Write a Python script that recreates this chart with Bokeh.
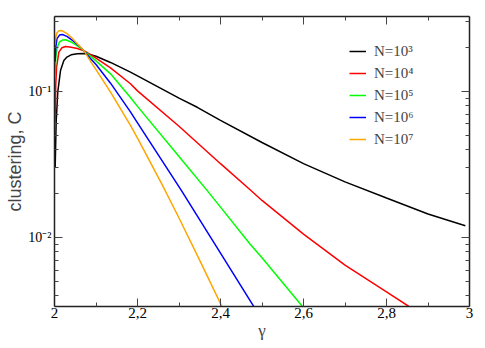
from bokeh.plotting import figure
from bokeh.models import (Range1d, LinearAxis, LogAxis, FixedTicker,
                          CustomJSTickFormatter, Legend, LegendItem)
from bokeh.embed import file_html
from bokeh.resources import INLINE

# ---- data ----
gamma_n3 = [2.0016, 2.004, 2.008, 2.0145, 2.0225, 2.03, 2.04, 2.055, 2.07, 2.085,
            2.1, 2.135, 2.183, 2.2, 2.3, 2.344, 2.4, 2.5, 2.6, 2.7, 2.8, 2.9, 2.99]
C_n3 = [0.030, 0.062, 0.100, 0.139, 0.163, 0.172, 0.178, 0.181, 0.182, 0.179,
        0.174, 0.158, 0.1355, 0.128, 0.090, 0.078, 0.0635, 0.0448, 0.0321, 0.0241,
        0.0187, 0.01455, 0.0121]

gamma_n4 = [2.0016, 2.003, 2.005, 2.0105, 2.018, 2.0265, 2.04, 2.055, 2.071, 2.085,
            2.1, 2.135, 2.183, 2.2, 2.3, 2.4, 2.472, 2.5, 2.6, 2.7, 2.8, 2.854, 2.88]
C_n4 = [0.060, 0.110, 0.147, 0.186, 0.199, 0.203, 0.201, 0.197, 0.190, 0.180,
        0.169, 0.145, 0.113, 0.101, 0.0579, 0.0321, 0.0212, 0.0180, 0.0106, 0.0065,
        0.00426, 0.00339, 0.0030]

gamma_n5 = [2.0016, 2.003, 2.0065, 2.012, 2.02, 2.0265, 2.04, 2.055, 2.071, 2.085,
            2.1, 2.135, 2.183, 2.2, 2.3, 2.368, 2.4, 2.472, 2.5, 2.597, 2.61]
C_n5 = [0.130, 0.170, 0.200, 0.218, 0.225, 0.226, 0.218, 0.205, 0.190, 0.176,
        0.162, 0.132, 0.0910, 0.0791, 0.0360, 0.0210, 0.0162, 0.0090, 0.0073, 0.0034,
        0.0030]

gamma_n6 = [2.0016, 2.003, 2.006, 2.012, 2.019, 2.03, 2.045, 2.06, 2.071, 2.085,
            2.1, 2.135, 2.183, 2.2, 2.306, 2.4, 2.48, 2.49]
C_n6 = [0.160, 0.200, 0.230, 0.243, 0.245, 0.238, 0.222, 0.204, 0.190, 0.170,
        0.153, 0.114, 0.0725, 0.0610, 0.0210, 0.00785, 0.0034, 0.0031]

gamma_n7 = [2.0016, 2.003, 2.006, 2.01, 2.0145, 2.02, 2.03, 2.045, 2.06, 2.071,
            2.085, 2.1, 2.135, 2.183, 2.2, 2.26, 2.3, 2.35, 2.404, 2.41]
C_n7 = [0.210, 0.235, 0.252, 0.259, 0.261, 0.259, 0.249, 0.228, 0.205, 0.190,
        0.164, 0.141, 0.099, 0.0586, 0.048, 0.0229, 0.01365, 0.0070, 0.00336, 0.0031]

series_labels = ["N=10\u00b3", "N=10\u2074", "N=10\u2075", "N=10\u2076", "N=10\u2077"]
series_colors = ["#000000", "#ff0000", "#00ff00", "#0000ff", "#ffa500"]

x_major = [2.0, 2.2, 2.4, 2.6, 2.8, 3.0]
x_minor = [2.1, 2.3, 2.5, 2.7, 2.9]
y_major = [0.001, 0.01, 0.1, 1.0]
y_minor = [0.004, 0.005, 0.006, 0.007, 0.008, 0.009,
           0.02, 0.03, 0.04, 0.05, 0.06, 0.07, 0.08, 0.09,
           0.2, 0.3]

x_label = "\u03b3"
y_label = "clustering, C"

# ---- figure ----
p = figure(width=485, height=348,
           x_range=Range1d(2.0, 3.0), y_range=Range1d(0.00339, 0.3256),
           y_axis_type="log", output_backend="svg", toolbar_location=None,
           min_border_left=54, min_border_right=16, min_border_top=16,
           min_border_bottom=42)
p.outline_line_color = None
p.background_fill_color = "white"
p.border_fill_color = "white"
p.xgrid.visible = False
p.ygrid.visible = False

xt = FixedTicker(ticks=x_major, minor_ticks=x_minor)
yt = FixedTicker(ticks=y_major, minor_ticks=y_minor)

x_fmt = CustomJSTickFormatter(code="""
let s = tick.toFixed(1).replace('.', ',');
if (s.endsWith(',0')) { s = s.slice(0, -2); }
return s;
""")
y_fmt = CustomJSTickFormatter(code="""
const sup = {'-':'\\u207b','0':'\\u2070','1':'\\u00b9','2':'\\u00b2','3':'\\u00b3',
             '4':'\\u2074','5':'\\u2075','6':'\\u2076','7':'\\u2077','8':'\\u2078','9':'\\u2079'};
const e = Math.round(Math.log10(tick));
return '10' + String(e).split('').map(c => sup[c]).join('');
""")
blank_fmt = CustomJSTickFormatter(code="return '';")


def style_axis(ax):
    ax.axis_line_color = "#222222"
    ax.axis_line_width = 1.5
    ax.major_tick_in = 8
    ax.major_tick_out = 0
    ax.minor_tick_in = 4
    ax.minor_tick_out = 0
    ax.major_tick_line_color = "#444444"
    ax.minor_tick_line_color = "#444444"
    ax.major_tick_line_width = 1
    ax.minor_tick_line_width = 1
    ax.major_label_text_font = "Liberation Serif"
    ax.major_label_text_font_size = "15px"
    ax.major_label_text_color = "#000000"


xa = p.xaxis[0]
xa.ticker = xt
xa.formatter = x_fmt
style_axis(xa)
xa.major_label_standoff = 1
xa.axis_label = x_label
xa.axis_label_text_font = "Liberation Serif"
xa.axis_label_text_font_style = "normal"
xa.axis_label_text_font_size = "17px"
xa.axis_label_standoff = 0

ya = p.yaxis[0]
ya.ticker = yt
ya.formatter = y_fmt
style_axis(ya)
ya.major_label_text_font_size = "14px"
ya.major_label_standoff = 3
ya.major_label_text_baseline = "hanging"
ya.axis_label = y_label
ya.axis_label_text_font = "Liberation Sans"
ya.axis_label_text_font_style = "normal"
ya.axis_label_text_font_size = "18px"
ya.axis_label_standoff = 0

top = LinearAxis(ticker=xt, formatter=blank_fmt)
style_axis(top)
top.major_label_text_font_size = "0px"
top.major_label_standoff = 0
p.add_layout(top, "above")

right = LogAxis(ticker=yt, formatter=blank_fmt)
style_axis(right)
right.major_label_text_font_size = "0px"
right.major_label_standoff = 0
p.add_layout(right, "right")

all_gamma = [gamma_n3, gamma_n4, gamma_n5, gamma_n6, gamma_n7]
all_C = [C_n3, C_n4, C_n5, C_n6, C_n7]
items = []
for g, c, lab, col in zip(all_gamma, all_C, series_labels, series_colors):
    r = p.line(g, c, line_color=col, line_width=1.5)
    items.append(LegendItem(label=lab, renderers=[r]))

legend = Legend(items=items, location="top_right", margin=25, padding=0,
                label_width=70, glyph_width=17, glyph_height=20, label_height=20,
                spacing=2, label_standoff=8, border_line_color=None,
                background_fill_alpha=0, label_text_font="Liberation Serif",
                label_text_font_size="15px")
p.add_layout(legend)

open("out.html", "w").write(file_html(p, INLINE))
